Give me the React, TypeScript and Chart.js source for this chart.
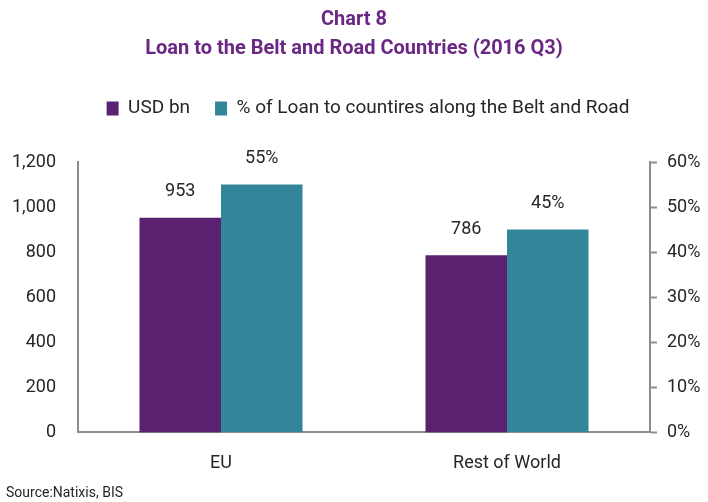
import React, { useEffect, useRef } from "react";
import { Chart, registerables } from "chart.js";

Chart.register(...registerables);

const categories = ["EU", "Rest of World"];
const usdBn = [953, 786];
const pctLoan = [55, 45];
const seriesNames = ["USD bn", "% of Loan to countires along the Belt and Road"];
const titleLines = ["Chart 8", "Loan to the Belt and Road Countries (2016 Q3)"];
const sourceText = "Source:Natixis, BIS";

const PURPLE = "#5a2171";
const TEAL = "#33859a";
const TITLE_COLOR = "#6b2784";
const AXIS = "#8c8c8c";
const TEXT = "#262626";
const FONT = "Roboto, 'Noto Sans', sans-serif";

const labelPlugin = {
  id: "barLabels",
  afterDatasetsDraw(chart: any) {
    const ctx = chart.ctx;
    ctx.save();
    ctx.font = `18px ${FONT}`;
    ctx.fillStyle = TEXT;
    ctx.textAlign = "center";
    ctx.textBaseline = "bottom";
    chart.data.datasets.forEach((ds: any, di: number) => {
      const meta = chart.getDatasetMeta(di);
      meta.data.forEach((bar: any, i: number) => {
        const v = ds.data[i];
        const txt = di === 0 ? String(v) : `${v}%`;
        ctx.fillText(txt, bar.x, bar.y - 17);
      });
    });
    ctx.restore();
  },
};

const sourcePlugin = {
  id: "sourceText",
  afterDraw(chart: any) {
    const ctx = chart.ctx;
    ctx.save();
    ctx.font = `14px ${FONT}`;
    ctx.fillStyle = TEXT;
    ctx.textAlign = "left";
    ctx.textBaseline = "middle";
    ctx.fillText(sourceText, 6, 493);
    ctx.restore();
  },
};

const legendSpacer = {
  id: "legendSpacer",
  beforeInit(chart: any) {
    const orig = chart.legend.fit;
    chart.legend.fit = function () {
      orig.bind(chart.legend)();
      this.height += 34;
    };
  },
  afterLayout(chart: any) {
    if (chart.legend) {
      chart.legend.left += 14;
      chart.legend.right += 14;
      if (chart.legend.legendHitBoxes) {
        chart.legend.legendHitBoxes.forEach((h: any) => { h.left += 14; });
      }
    }
  },
};

export default function App() {
  const ref = useRef<HTMLCanvasElement>(null);
  useEffect(() => {
    const chart = new Chart(ref.current!, {
      type: "bar",
      data: {
        labels: categories,
        datasets: [
          { label: seriesNames[0], data: usdBn, backgroundColor: PURPLE, yAxisID: "y", categoryPercentage: 0.57, barPercentage: 1 },
          { label: seriesNames[1], data: pctLoan, backgroundColor: TEAL, yAxisID: "y1", categoryPercentage: 0.57, barPercentage: 1 },
        ],
      },
      options: {
        animation: false,
        responsive: false,
        layout: { padding: { top: 0, left: 0, right: 0, bottom: 8 } },
        plugins: {
          title: {
            display: true,
            text: titleLines,
            color: TITLE_COLOR,
            font: { family: FONT, size: 20, weight: "bold", lineHeight: 1.45 },
            padding: { top: 5, bottom: 11 },
          },
          legend: {
            display: true,
            labels: {
              color: TEXT,
              font: { family: FONT, size: 19 },
              boxWidth: 12,
              boxHeight: 14,
              padding: 25,
            },
          },
          tooltip: { enabled: false },
        },
        scales: {
          x: {
            grid: { display: false, drawTicks: false },
            border: { display: true, color: AXIS, width: 2 },
            ticks: { color: TEXT, font: { family: FONT, size: 18 }, padding: 20 },
          },
          y: {
            position: "left",
            min: 0,
            max: 1200,
            afterFit(s: any) { s.width = 78; },
            grid: { display: false, drawTicks: false },
            border: { display: true, color: AXIS, width: 2 },
            ticks: { stepSize: 200, color: TEXT, font: { family: FONT, size: 18 }, padding: 22 },
          },
          y1: {
            position: "right",
            min: 0,
            max: 60,
            afterFit(s: any) { s.width = 58; },
            grid: { display: true, drawOnChartArea: false, drawTicks: true, tickLength: 7, color: AXIS, tickColor: AXIS, tickWidth: 2 },
            border: { display: true, color: AXIS, width: 2 },
            ticks: { stepSize: 10, color: TEXT, font: { family: FONT, size: 18 }, padding: 10, callback: (v: any) => `${v}%` },
          },
        },
      },
      plugins: [labelPlugin, sourcePlugin, legendSpacer],
    } as any);
    return () => chart.destroy();
  }, []);
  return (
    <div style={{ position: "fixed", left: 0, top: 0, width: 708, height: 502, background: "#fff" }}>
      <canvas ref={ref} width={708} height={502} style={{ width: 708, height: 502 }} />
    </div>
  );
}
